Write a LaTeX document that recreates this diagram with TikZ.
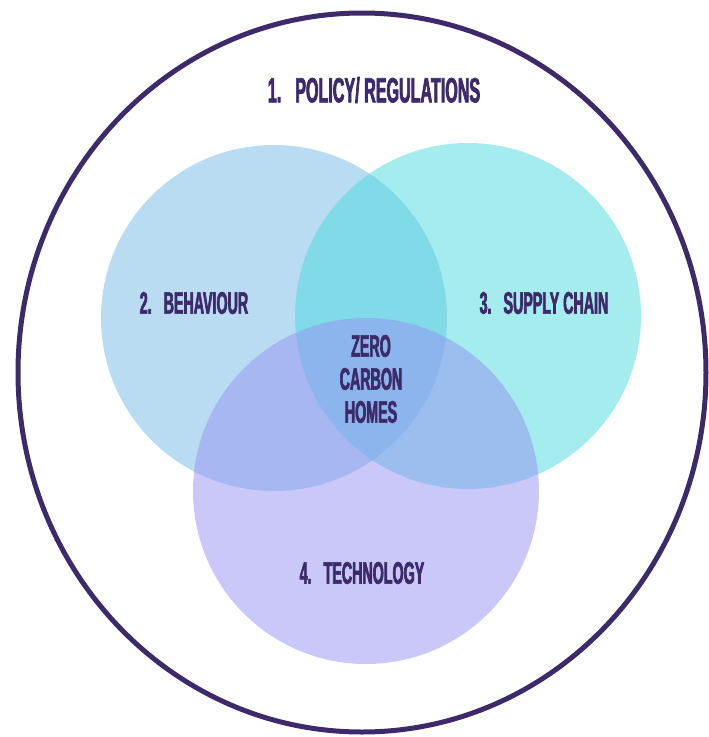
\documentclass[tikz,border=0pt]{standalone}
\usepackage{fontspec}
\newfontfamily\vennfont[FakeStretch=0.46, FakeBold=2]{Liberation Sans Bold}
\usetikzlibrary{shapes.geometric}
\definecolor{vennpurple}{RGB}{61,42,107}
\definecolor{behaviourblue}{RGB}{115,185,229}
\definecolor{supplycyan}{RGB}{73,217,221}
\definecolor{technologyviolet}{RGB}{150,146,241}
\begin{document}
\begin{tikzpicture}[x=1pt, y=-1pt,
        venn/.style={circle, minimum size=346pt, inner sep=0pt, fill opacity=0.5},
        vennlabel/.style={text=vennpurple, align=center, inner sep=0pt,
            font=\vennfont\fontsize{31}{33}\selectfont}]
    \useasboundingbox (0,0) rectangle (709,737);
    % outer ring
    \node[ellipse, draw=vennpurple, line width=5pt, minimum width=688pt, minimum height=719pt, inner sep=0pt] (policy) at (362,372.5) {};
    % the three sets
    \node[venn, fill=behaviourblue] (behaviour) at (274,318) {};
    \node[venn, fill=supplycyan] (supply) at (468,316) {};
    \node[venn, fill=technologyviolet] (technology) at (366,491) {};
    % labels
    \node[vennlabel, font=\vennfont\fontsize{35}{36}\selectfont] (policytext) at (374,90) {1.\hspace{14pt}POLICY/ REGULATIONS};
    \node[vennlabel] (behaviourtext) at (194,303) {2.\hspace{12pt}BEHAVIOUR};
    \node[vennlabel] (supplytext) at (544,303) {3.\hspace{12pt}SUPPLY CHAIN};
    \node[vennlabel] (technologytext) at (362,573) {4.\hspace{12pt}TECHNOLOGY};
    \node[vennlabel] (centretext) at (371,379) {ZERO\\CARBON\\HOMES};
\end{tikzpicture}
\end{document}
